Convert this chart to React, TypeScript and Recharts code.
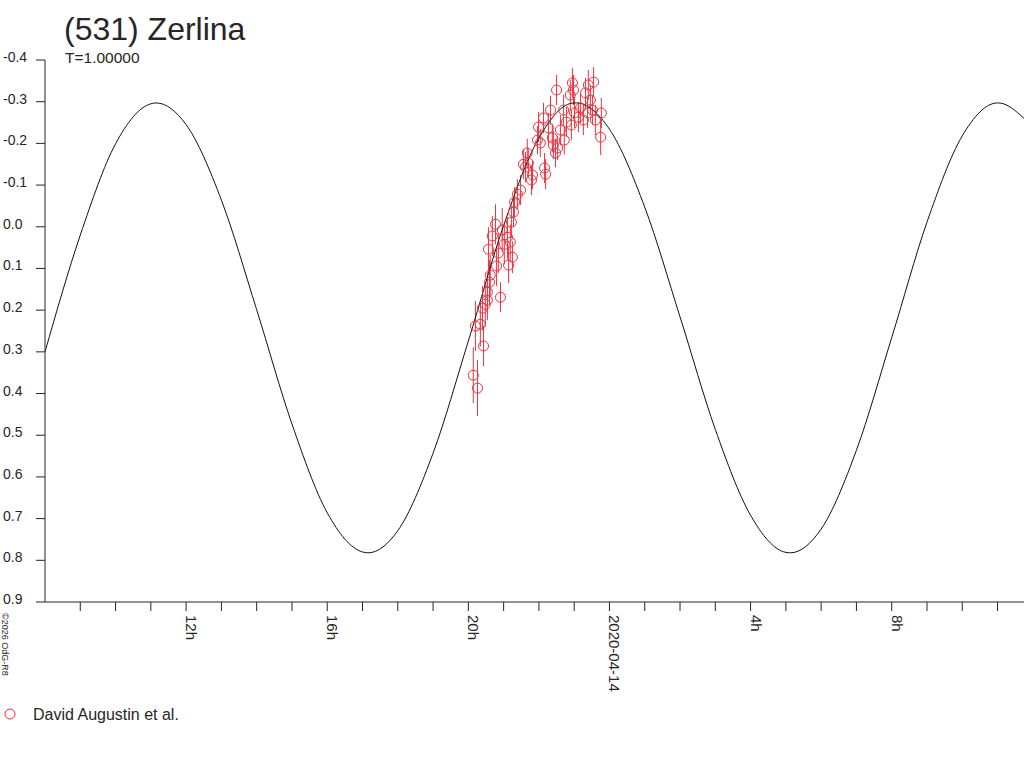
import React from "react";
import { ComposedChart, Line, Scatter, ErrorBar, XAxis, YAxis } from "recharts";

const FONT = "'Liberation Sans', Arial, sans-serif";
const INK = "#262626";
const RED = "#ee3340";

// fitted lightcurve, hours counted from 2020-04-13 0h
const curveHours = [
  8, 9, 10, 11, 11.15, 12, 13, 14, 15, 16, 17, 17.16, 18, 19, 20, 21, 22, 23,
  23.06, 24, 25, 26, 27, 28, 29, 29.13, 30, 31, 32, 33, 34, 35, 35.03, 35.75,
];
const curveMag = [
  0.3, 0.02, -0.199, -0.295, -0.297, -0.245, -0.064, 0.199, 0.473, 0.686,
  0.78, 0.782, 0.729, 0.543, 0.274, -0.003, -0.213, -0.297, -0.297, -0.234,
  -0.047, 0.216, 0.486, 0.692, 0.781, 0.782, 0.725, 0.536, 0.266, -0.011,
  -0.218, -0.297, -0.297, -0.26,
];

// David Augustin et al. observations
const obsHours = [
  20.14, 20.26, 20.2, 20.34, 20.43, 20.48, 20.54, 20.6, 20.54, 20.91, 20.62,
  20.57, 20.68, 20.77, 20.85, 20.96, 21.11, 21.14, 21.19, 21.25, 21.22, 21.28,
  21.31, 21.39, 21.56, 21.62, 21.67, 21.7, 21.82, 21.96, 22.04, 21.99, 22.13,
  22.16, 22.19, 22.41, 22.47, 22.33, 22.38, 22.5, 22.53, 22.7, 22.72, 22.89,
  22.95, 22.98, 23.01, 22.92, 23.12, 23.26, 23.32, 23.38, 23.4, 23.52, 23.55,
  23.6, 23.75, 23.77, 23.18, 22.78, 22.27, 21.79, 21.48, 21.02, 20.8, 20.4,
  22.61, 23.46,
];
const obsMag = [
  0.356, 0.387, 0.238, 0.234, 0.286, 0.186, 0.176, 0.133, 0.157, 0.169, 0.116,
  0.054, 0.022, -0.006, 0.063, 0.008, 0.025, 0.092, 0.037, 0.073, -0.011,
  -0.035, -0.059, -0.078, -0.15, -0.143, -0.177, -0.153, -0.124, -0.208,
  -0.201, -0.239, -0.261, -0.141, -0.126, -0.196, -0.177, -0.28, -0.213,
  -0.328, -0.189, -0.28, -0.208, -0.316, -0.345, -0.328, -0.273, -0.244,
  -0.263, -0.256, -0.321, -0.273, -0.34, -0.28, -0.347, -0.256, -0.215,
  -0.273, -0.285, -0.251, -0.237, -0.112, -0.088, 0.042, 0.094, 0.195, -0.232,
  -0.304,
];
const obsErr = [
  0.067, 0.067, 0.06, 0.053, 0.048, 0.053, 0.048, 0.053, 0.048, 0.036, 0.048,
  0.053, 0.048, 0.048, 0.048, 0.053, 0.048, 0.043, 0.043, 0.038, 0.038, 0.036,
  0.036, 0.036, 0.036, 0.036, 0.034, 0.034, 0.034, 0.034, 0.034, 0.036, 0.036,
  0.036, 0.036, 0.034, 0.034, 0.034, 0.034, 0.036, 0.029, 0.036, 0.034, 0.036,
  0.036, 0.036, 0.036, 0.036, 0.036, 0.036, 0.036, 0.036, 0.036, 0.036, 0.036,
  0.036, 0.043, 0.036, 0.036, 0.036, 0.036, 0.036, 0.036, 0.048, 0.048, 0.053,
  0.036, 0.036,
];

const hourTicks = [
  9, 10, 11, 12, 13, 14, 15, 16, 17, 18, 19, 20, 21, 22, 23, 24, 25, 26, 27,
  28, 29, 30, 31, 32, 33, 34, 35,
];
const hourLabels: Record<number, string> = {
  12: "12h",
  16: "16h",
  20: "20h",
  24: "2020-04-14",
  28: "4h",
  32: "8h",
};
const magTicks = [-0.4, -0.3, -0.2, -0.1, 0, 0.1, 0.2, 0.3, 0.4, 0.5, 0.6, 0.7, 0.8, 0.9];

const curve = curveHours.map((h, i) => ({ h, mag: curveMag[i] }));
const obs = obsHours.map((h, i) => ({ h, mag: obsMag[i], err: obsErr[i] }));

function MagTick({ y, payload }: any) {
  return (
    <text x={3} y={y + 2} fontFamily={FONT} fontSize={14} fill={INK}>
      {Number(payload.value).toFixed(1)}
    </text>
  );
}

function HourTick({ x, payload }: any) {
  const label = hourLabels[payload.value];
  if (!label) return <g />;
  return (
    <text
      transform={`translate(${x},615) rotate(90)`}
      fontFamily={FONT}
      fontSize={15}
      fill={INK}
    >
      {label}
    </text>
  );
}

function Ring(props: any) {
  return <circle cx={props.cx} cy={props.cy} r={5} fill="none" stroke={RED} strokeWidth={1} />;
}

export default function App() {
  return (
    <div style={{ position: "absolute", left: 0, top: 0, width: 1024, height: 768, background: "#fff" }}>
      <ComposedChart width={1024} height={768} margin={{ top: 60, right: 0, left: 0, bottom: 0 }}>
        <XAxis
          dataKey="h"
          type="number"
          domain={[8, 35.75]}
          ticks={hourTicks}
          interval={0}
          tickSize={9}
          height={166}
          stroke={INK}
          tick={<HourTick />}
          allowDataOverflow
        />
        <YAxis
          type="number"
          domain={[-0.4, 0.9]}
          reversed
          ticks={magTicks}
          interval={0}
          tickSize={9}
          width={45}
          stroke={INK}
          tick={<MagTick />}
          allowDataOverflow
        />
        <Scatter data={obs} dataKey="mag" shape={Ring} isAnimationActive={false}>
          <ErrorBar dataKey="err" direction="y" width={0} stroke={RED} strokeWidth={1} isAnimationActive={false} />
        </Scatter>
        <Line
          data={curve}
          dataKey="mag"
          type="monotone"
          stroke="#111"
          strokeWidth={1}
          dot={false}
          activeDot={false}
          isAnimationActive={false}
        />
      </ComposedChart>
      <svg width={1024} height={768} style={{ position: "absolute", left: 0, top: 0, pointerEvents: "none" }}>
        <text x={64} y={40} fontFamily={FONT} fontSize={32} fill={INK}>
          (531) Zerlina
        </text>
        <text x={65} y={63} fontFamily={FONT} fontSize={15.5} fill={INK}>
          T=1.00000
        </text>
        <text transform="translate(2,613) rotate(90)" fontFamily={FONT} fontSize={9} fill={INK}>
          ©2026 OdG-R8
        </text>
        <circle cx={10} cy={714} r={5} fill="none" stroke={RED} strokeWidth={1} />
        <text x={33} y={720} fontFamily={FONT} fontSize={16} fill={INK}>
          David Augustin et al.
        </text>
      </svg>
    </div>
  );
}
